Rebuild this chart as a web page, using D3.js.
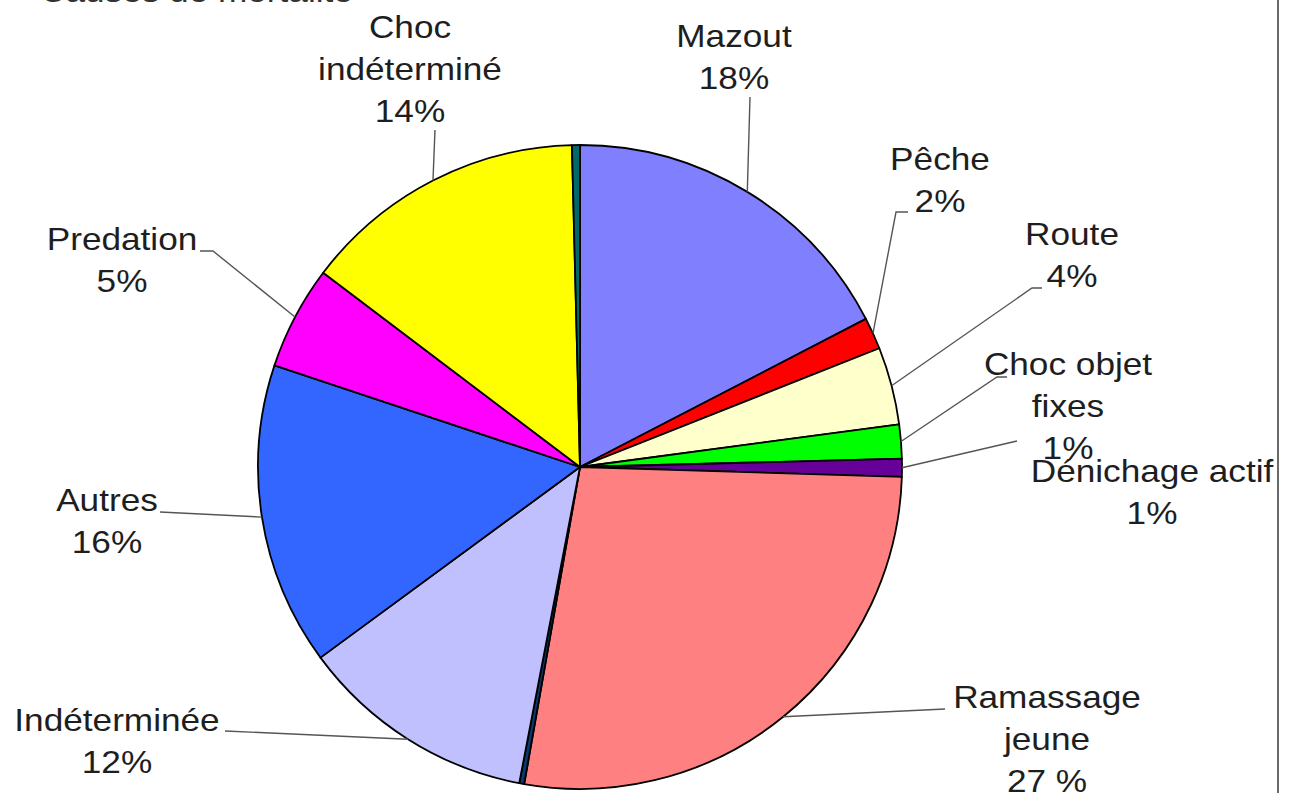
<!DOCTYPE html>
<html>
<head>
<meta charset="utf-8">
<script src="https://cdn.jsdelivr.net/npm/d3@7"></script>
<style>
  html, body { margin: 0; padding: 0; background: #fff; }
  svg { display: block; }
</style>
</head>
<body>
<div id="chart"></div>
<script>
const categories = ['Mazout', 'Pêche', 'Route', 'Choc objet fixes', 'Dénichage actif',
  'Ramassage jeune', '', 'Indéterminée', 'Autres', 'Predation', 'Choc indéterminé', ''];
const values = [17.4, 1.6, 3.9, 1.7, 0.9, 27.3, 0.25, 11.9, 15.2, 5.2, 14.3, 0.4];
const labelLines = [
  ['Mazout', '18%'], ['Pêche', '2%'], ['Route', '4%'], ['Choc objet', 'fixes', '1%'],
  ['Dénichage actif', '1%'], ['Ramassage', 'jeune', '27 %'], null,
  ['Indéterminée', '12%'], ['Autres', '16%'], ['Predation', '5%'],
  ['Choc', 'indéterminé', '14%'], null
];
const colors = ['#8080ff', '#ff0000', '#ffffcc', '#00ff00', '#660099', '#ff8080',
  '#0b3a6a', '#c0c0ff', '#3366ff', '#ff00ff', '#ffff00', '#006a6a'];

// Mise en page des étiquettes : centre x, 1re ligne de base, départ du trait
const layout = [
  { x: 734, y: 47, lead: [[750, 97]] },
  { x: 940, y: 170, lead: [[908, 212], [896, 212]] },
  { x: 1072, y: 245, lead: [[1042, 288], [1032, 288]] },
  { x: 1068, y: 375, lead: [[1007, 377], [997, 377]] },
  { x: 1152, y: 482, lead: [[1017, 441]] },
  { x: 1047, y: 708, lead: [[945, 709]] },
  null,
  { x: 117, y: 731, lead: [[225, 731]] },
  { x: 107, y: 511, lead: [[160, 512]] },
  { x: 122, y: 250, lead: [[200, 251], [213, 251]] },
  { x: 410, y: 38, lead: [[435, 130]] },
  null
];

const W = 1292, H = 793;
const cx = 580, cy = 467, R = 322;
const FONT = '"Liberation Sans", Arial, sans-serif';
const LINE_H = 42;

const svg = d3.select('#chart').append('svg')
  .attr('width', W).attr('height', H);

svg.append('rect').attr('width', W).attr('height', H).attr('fill', '#fff');

// Titre coupé en haut
svg.append('text')
  .attr('transform', 'translate(40,2) scale(1.1,1)')
  .attr('font-family', FONT).attr('font-size', 32).attr('fill', '#333')
  .text('Causes de mortalité');

// Bord droit du cadre
svg.append('line')
  .attr('x1', 1278).attr('x2', 1278).attr('y1', 0).attr('y2', H)
  .attr('stroke', '#6a6a6a').attr('stroke-width', 2);

const data = categories.map((c, i) => ({ name: c, value: values[i], i }));
const pie = d3.pie().sort(null).value(d => d.value);
const arcs = pie(data);
const arc = d3.arc().innerRadius(0).outerRadius(R);
const edge = d3.arc().innerRadius(R).outerRadius(R);

const g = svg.append('g').attr('transform', `translate(${cx},${cy})`);

g.selectAll('path').data(arcs).join('path')
  .attr('d', arc)
  .attr('fill', d => colors[d.data.i])
  .attr('stroke', '#000')
  .attr('stroke-width', 1.8)
  .attr('stroke-linejoin', 'round');

// Traits de rappel
arcs.forEach(d => {
  const L = layout[d.data.i];
  if (!L) return;
  const [ex, ey] = edge.centroid(d);
  const pts = L.lead.concat([[cx + ex, cy + ey]]);
  svg.append('path')
    .attr('d', d3.line()(pts))
    .attr('fill', 'none')
    .attr('stroke', '#555')
    .attr('stroke-width', 1.4);
});

// Étiquettes
arcs.forEach(d => {
  const L = layout[d.data.i];
  const lines = labelLines[d.data.i];
  if (!L || !lines) return;
  const t = svg.append('text')
    .attr('transform', `translate(${L.x},${L.y}) scale(1.1,1)`)
    .attr('text-anchor', 'middle')
    .attr('font-family', FONT)
    .attr('font-size', 32)
    .attr('fill', '#1e1e1e');
  lines.forEach((s, k) => {
    t.append('tspan').attr('x', 0).attr('y', k * LINE_H).text(s);
  });
});
</script>
</body>
</html>
